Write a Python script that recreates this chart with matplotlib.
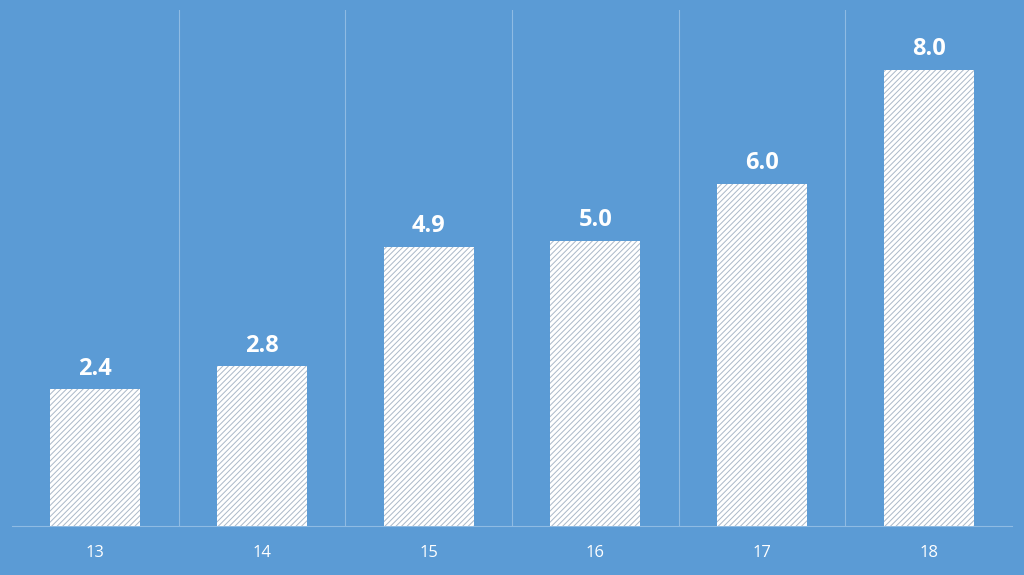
import matplotlib
matplotlib.use("Agg")
import matplotlib.pyplot as plt

categories = ["13", "14", "15", "16", "17", "18"]
values = [2.4, 2.8, 4.9, 5.0, 6.0, 8.0]

bg = "#5b9bd5"
plt.rcParams['hatch.linewidth'] = 0.7
plt.rcParams['font.family'] = ['Open Sans', 'DejaVu Sans']
fig = plt.figure(figsize=(10.24, 5.75), dpi=100, facecolor=bg)
ax = fig.add_axes([12/1024, 49/575, 1000/1024, 516/575])
ax.set_facecolor(bg)
x = list(range(len(categories)))
ax.bar(x, values, width=0.54, color="white", edgecolor="#aab8c8", linewidth=0, hatch="//////", zorder=3)
for xi, v in zip(x, values):
    ax.text(xi, v + 0.15, f"{v:.1f}", ha="center", va="bottom", color="white",
            fontsize=17, fontweight="bold", zorder=4)
ax.set_xlim(-0.5, len(categories) - 0.5)
ax.set_ylim(0, 9.05)
for b in range(1, len(categories)):
    ax.axvline(b - 0.5, color="#8fbbe3", linewidth=0.8, zorder=1)
for s in ["top", "right", "left"]:
    ax.spines[s].set_visible(False)
ax.spines["bottom"].set_color("#8fbbe3")
ax.set_yticks([])
ax.set_xticks(x)
ax.set_xticklabels(categories, color="white", fontsize=12)
ax.tick_params(axis="x", length=0, pad=14)
fig.savefig("out.png", dpi=100, facecolor=bg)
